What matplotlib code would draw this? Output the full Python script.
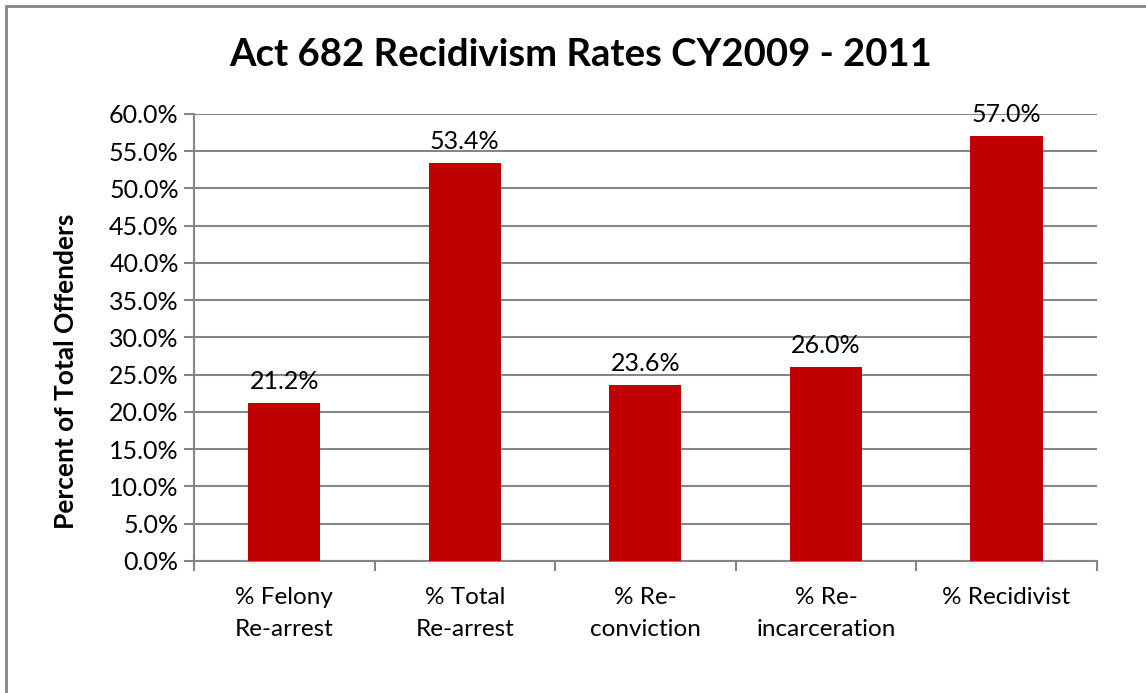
import numpy as np
import matplotlib
matplotlib.use("Agg")
import matplotlib.pyplot as plt
from matplotlib.patches import Rectangle
from matplotlib.ticker import FixedLocator, PercentFormatter

plt.rcParams["font.family"] = ["Lato", "DejaVu Sans"]

categories = ["% Felony\nRe-arrest", "% Total\nRe-arrest", "% Re-\nconviction",
              "% Re-\nincarceration", "% Recidivist"]
rates = [21.2, 53.4, 23.6, 26.0, 57.0]
yticks = [0, 5, 10, 15, 20, 25, 30, 35, 40, 45, 50, 55, 60]

GRAY = "#868686"
BAR = "#C00000"
FS = 18

fig = plt.figure(figsize=(11.46, 6.93), dpi=100)
ax = fig.add_axes([0.1693, 0.1905, 0.7877, 0.645])

x = np.arange(len(categories))
ax.bar(x, rates, width=0.4, color=BAR, zorder=3)

for xi, v in zip(x, rates):
    ax.annotate(f"{v:.1f}%", (xi, v), xytext=(0, 15.5), textcoords="offset points",
                ha="center", va="center", fontsize=FS, zorder=4)

ax.set_xlim(-0.5, len(categories) - 0.5)
ax.set_ylim(0, 60)
ax.set_yticks(yticks)
ax.yaxis.set_major_formatter(PercentFormatter(decimals=1))
ax.set_xticks(x)
ax.set_xticklabels(categories, fontsize=FS - 0.5, linespacing=1.6)
ax.xaxis.set_minor_locator(FixedLocator(np.arange(-0.5, len(categories), 1.0)))
ax.tick_params(axis="x", which="major", length=0, pad=19)
ax.tick_params(axis="x", which="minor", length=7, width=1.5, color=GRAY, direction="out")
ax.tick_params(axis="y", length=7, width=1.5, color=GRAY, labelsize=FS, pad=4)

ax.grid(axis="y", color=GRAY, linewidth=1.5, zorder=0)
ax.set_axisbelow(True)
for s in ["top", "right"]:
    ax.spines[s].set_visible(False)
for s in ["left", "bottom"]:
    ax.spines[s].set_color(GRAY)
    ax.spines[s].set_linewidth(1.5)

ax.set_ylabel("Percent of Total Offenders", fontsize=FS + 1, fontweight="bold")
ax.yaxis.set_label_coords(-0.128, 0.425)
fig.text(0.507, 0.921, "Act 682 Recidivism Rates CY2009 - 2011", ha="center", va="center",
         fontsize=27.5, fontweight="bold")

# chart-area border (right/bottom edges fall outside the image)
fig.patches.append(Rectangle((6 / 1146, -0.05), 1.2, 1.05 - 6 / 693,
                             transform=fig.transFigure, fill=False,
                             edgecolor=GRAY, linewidth=2))

fig.savefig("out.png", dpi=100)
